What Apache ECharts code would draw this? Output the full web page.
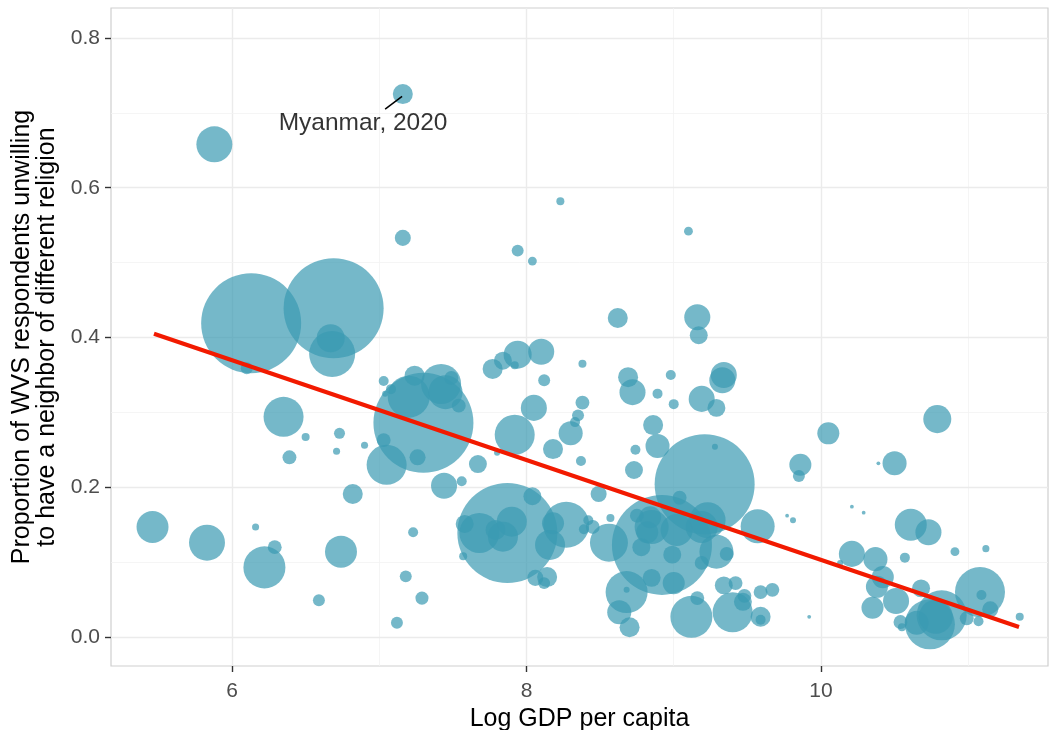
<!DOCTYPE html>
<html>
<head>
<meta charset="utf-8">
<title>Religious tolerance and GDP</title>
<script src="https://cdn.jsdelivr.net/npm/echarts@6/dist/echarts.min.js"></script>
<style>
  html, body { margin: 0; padding: 0; background: #ffffff; }
  #chart { width: 1052px; height: 730px; }
</style>
</head>
<body>
<div id="chart"></div>
<script>
// Log GDP per capita of each country-wave
const gdp = [
  7.16, 5.88, 7.16, 8.23, 9.10, 7.94, 8.04, 6.13, 6.69, 6.68,
  6.67, 6.10, 6.35, 6.50, 6.73, 6.71, 6.39, 6.90, 7.03, 7.08,
  7.04, 7.30, 7.05, 7.26, 7.24, 7.20, 7.42, 7.45, 7.49, 7.54,
  7.03, 7.67, 7.92, 8.05, 7.77, 7.84, 7.94, 7.92, 8.10, 8.12,
  8.38, 8.62, 9.16, 9.17, 8.69, 8.72, 8.89, 8.98, 9.00, 9.19,
  9.29, 9.33, 9.34, 8.38, 8.35, 8.33, 8.86, 8.30, 8.18, 8.37,
  7.56, 7.44, 7.80, 7.23, 7.18, 7.29, 7.12, 5.46, 5.83, 6.16,
  6.29, 6.22, 6.74, 6.59, 6.82, 7.87, 7.68, 7.58, 7.79, 7.90,
  7.84, 8.04, 7.57, 8.27, 8.18, 8.16, 8.14, 8.06, 8.12, 8.42,
  8.39, 8.45, 8.57, 8.49, 8.56, 8.92, 8.75, 8.84, 8.82, 8.85,
  9.02, 9.04, 9.23, 9.19, 8.78, 8.99, 9.29, 9.36, 9.19, 8.85,
  9.00, 8.68, 8.68, 8.63, 8.70, 9.12, 9.16, 9.40, 9.34, 9.42,
  9.48, 9.47, 9.59, 9.59, 9.59, 9.67, 9.57, 9.21, 9.28, 8.89,
  8.74, 8.73, 10.05, 10.79, 9.86, 9.85, 10.39, 10.50, 9.77, 9.81,
  10.21, 10.29, 10.61, 10.73, 10.91, 11.12, 10.21, 10.37, 10.42, 10.38,
  10.35, 10.51, 10.57, 10.68, 10.54, 10.55, 10.65, 10.74, 10.82, 10.78,
  11.08, 11.09, 11.15, 11.07, 10.99, 11.35, 10.13, 9.92
];

// Share of respondents who would not want a neighbour of a different religion
const share = [
  0.725, 0.658, 0.533, 0.582, 0.542, 0.516, 0.502, 0.419, 0.439, 0.378,
  0.399, 0.359, 0.294, 0.267, 0.272, 0.248, 0.240, 0.256, 0.342, 0.331,
  0.325, 0.286, 0.230, 0.240, 0.349, 0.321, 0.338, 0.327, 0.346, 0.309,
  0.263, 0.231, 0.270, 0.306, 0.358, 0.369, 0.377, 0.363, 0.381, 0.343,
  0.365, 0.426, 0.427, 0.403, 0.347, 0.327, 0.325, 0.350, 0.311, 0.318,
  0.306, 0.343, 0.350, 0.313, 0.296, 0.287, 0.283, 0.272, 0.251, 0.235,
  0.208, 0.202, 0.246, 0.140, 0.081, 0.052, 0.019, 0.147, 0.126, 0.147,
  0.120, 0.093, 0.114, 0.049, 0.191, 0.139, 0.139, 0.151, 0.143, 0.154,
  0.134, 0.188, 0.108, 0.150, 0.152, 0.123, 0.080, 0.079, 0.072, 0.156,
  0.144, 0.147, 0.159, 0.191, 0.126, 0.123, 0.162, 0.160, 0.140, 0.147,
  0.143, 0.186, 0.156, 0.147, 0.120, 0.110, 0.114, 0.111, 0.099, 0.079,
  0.072, 0.060, 0.063, 0.033, 0.013, 0.027, 0.052, 0.033, 0.069, 0.072,
  0.055, 0.047, 0.027, 0.023, 0.060, 0.063, 0.148, 0.204, 0.254, 0.255,
  0.250, 0.223, 0.272, 0.291, 0.230, 0.215, 0.232, 0.232, 0.162, 0.156,
  0.174, 0.166, 0.150, 0.140, 0.114, 0.118, 0.111, 0.104, 0.080, 0.067,
  0.039, 0.048, 0.106, 0.065, 0.020, 0.013, 0.019, 0.017, 0.029, 0.027,
  0.060, 0.056, 0.037, 0.021, 0.025, 0.027, 0.099, 0.027
];

// Population in millions (bubble area)
const pop = [
  56, 181, 36, 9, 11, 20, 11, 1400, 1400, 296,
  110, 20, 224, 9, 17, 7, 27, 7, 14, 14,
  5, 1400, 224, 36, 56, 247, 224, 162, 27, 27,
  27, 45, 224, 95, 56, 45, 110, 9, 95, 20,
  9, 56, 95, 45, 56, 95, 14, 14, 14, 95,
  45, 95, 95, 27, 20, 14, 56, 81, 56, 14,
  14, 95, 5, 14, 20, 24, 20, 143, 181, 7,
  27, 247, 143, 20, 56, 1400, 224, 45, 56, 126,
  126, 45, 9, 296, 68, 126, 56, 36, 20, 14,
  14, 27, 9, 36, 202, 1400, 27, 68, 68, 162,
  143, 27, 181, 143, 45, 45, 162, 27, 27, 45,
  68, 247, 5, 81, 56, 247, 27, 224, 45, 27,
  27, 45, 56, 14, 27, 27, 162, 1400, 5, 81,
  14, 45, 68, 110, 68, 20, 2, 81, 2, 5,
  2, 2, 143, 95, 11, 7, 95, 81, 68, 68,
  68, 95, 14, 45, 27, 9, 81, 350, 350, 162,
  350, 14, 36, 14, 27, 9, 5, 2
];

// Fitted linear trend (endpoints over the observed GDP range)
const trendX = [5.47, 11.345];
const trendY = [0.405, 0.0134];

// Tick values
const xTicks = [6, 8, 10];
const yTicks = [0, 0.2, 0.4, 0.6, 0.8];
const xMinor = [7, 9, 11];
const yMinor = [0.1, 0.3, 0.5, 0.7];

// Labelled observation
const labelText = 'Myanmar, 2020';
const labelAt = [6.89, 0.686];
const leaderFrom = [7.04, 0.705];
const leaderTo = [7.155, 0.722];

const points = gdp.map((g, i) => [g, share[i], pop[i]]);
const trend = trendX.map((x, i) => [x, trendY[i]]);

const gridMajor = { color: '#ebebeb', width: 1.4, type: 'solid' };
const gridMinor = { color: '#f2f2f2', width: 0.8, type: 'solid' };
const gridLines = []
  .concat(xTicks.map(v => ({ xAxis: v, lineStyle: gridMajor })))
  .concat(xMinor.map(v => ({ xAxis: v, lineStyle: gridMinor })))
  .concat(yTicks.map(v => ({ yAxis: v, lineStyle: gridMajor })))
  .concat(yMinor.map(v => ({ yAxis: v, lineStyle: gridMinor })));

const FONT = '"Liberation Sans", Arial, Helvetica, sans-serif';

const chart = echarts.init(document.getElementById('chart'), null, { renderer: 'canvas' });

chart.setOption({
  animation: false,
  backgroundColor: '#ffffff',
  textStyle: { fontFamily: FONT },
  grid: {
    left: 111, right: 4, top: 8, bottom: 64,
    containLabel: false,
    outerBoundsMode: 'none',
    show: true, borderColor: '#cfcfcf', borderWidth: 1.2, backgroundColor: 'transparent'
  },
  xAxis: {
    type: 'value',
    min: 5.178, max: 11.542,
    name: 'Log GDP per capita',
    nameLocation: 'middle',
    nameGap: 38,
    nameTextStyle: { fontSize: 25, color: '#000000', fontFamily: FONT },
    axisLine: { show: false, onZero: false },
    axisTick: { show: true, length: 6, customValues: xTicks, lineStyle: { color: '#333333', width: 1.4 } },
    axisLabel: { customValues: xTicks, margin: 15, fontSize: 21, color: '#4d4d4d', fontFamily: FONT },
    splitLine: { show: false }
  },
  yAxis: {
    type: 'value',
    min: -0.0387, max: 0.840,
    name: 'Proportion of WVS respondents unwilling\nto have a neighbor of different religion',
    nameLocation: 'middle',
    nameRotate: 90,
    nameGap: 51,
    nameTextStyle: { fontSize: 25, lineHeight: 25, color: '#000000', fontFamily: FONT },
    axisLine: { show: false, onZero: false },
    axisTick: { show: true, length: 6, customValues: yTicks, lineStyle: { color: '#333333', width: 1.4 } },
    axisLabel: {
      customValues: yTicks, margin: 11, fontSize: 21, color: '#4d4d4d', fontFamily: FONT,
      formatter: v => v.toFixed(1)
    },
    splitLine: { show: false }
  },
  series: [
    {
      name: 'grid',
      type: 'scatter',
      data: [],
      silent: true,
      z: 0,
      markLine: {
        z: 0,
        silent: true,
        symbol: 'none',
        label: { show: false },
        animation: false,
        data: gridLines
      }
    },
    {
      name: 'countries',
      type: 'scatter',
      data: points,
      z: 2,
      symbolSize: v => 2.673 * Math.sqrt(v[2]),
      itemStyle: { color: '#3B9AB2', opacity: 0.7 }
    },
    {
      name: 'trend',
      type: 'line',
      data: trend,
      z: 3,
      symbol: 'none',
      silent: true,
      lineStyle: { color: '#F21A00', width: 4 }
    },
    {
      name: 'label',
      type: 'scatter',
      data: [labelAt],
      z: 4,
      symbolSize: 0,
      silent: true,
      label: {
        show: true,
        position: 'inside',
        formatter: labelText,
        fontSize: 24.5,
        color: '#000000',
        fontFamily: FONT
      },
      markLine: {
        z: 4,
        silent: true,
        symbol: 'none',
        label: { show: false },
        lineStyle: { color: '#000000', width: 1.5, type: 'solid' },
        data: [[{ coord: leaderFrom }, { coord: leaderTo }]]
      }
    }
  ]
});
</script>
</body>
</html>
